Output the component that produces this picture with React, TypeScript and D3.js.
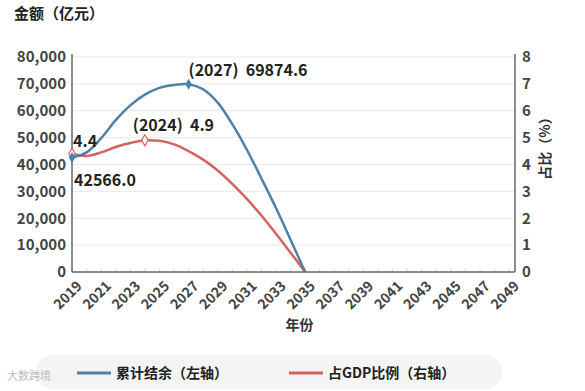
import React from "react";
import * as d3 from "d3";

// values
const years = d3.range(2019, 2036);
const balance = [
  42566, 44500, 49800, 56500, 62000, 66000, 68500, 69600, 69874.6,
  68000, 63000, 55000, 45500, 34800, 23800, 12000, 0,
];
const gdpShare = [
  4.4, 4.32, 4.45, 4.65, 4.8, 4.9, 4.88, 4.75, 4.5,
  4.18, 3.78, 3.28, 2.72, 2.1, 1.42, 0.72, 0,
];
const xTickYears = d3.range(2019, 2050, 2);
const leftTicks = d3.range(0, 80001, 10000);
const rightTicks = d3.range(0, 9);

const blueMarks = [
  { year: 2019, value: 42566.0, label: "42566.0", dx: 2, dy: 28 },
  { year: 2027, value: 69874.6, label: "(2027)  69874.6", dx: 0, dy: -8 },
];
const redMarks = [
  { year: 2019, value: 4.4, label: "4.4", dx: 1, dy: -7 },
  { year: 2024, value: 4.9, label: "(2024)  4.9", dx: -12, dy: -9 },
];

const font = "'Noto Sans CJK SC', 'Noto Sans', sans-serif";
const BLUE = "#4c82a6";
const RED = "#d5625d";

const App = () => {
  const width = 585;
  const height = 391;
  const m = { left: 72, right: 70, top: 57, bottom: 119 };
  const x = d3.scaleLinear().domain([2019, 2049.4]).range([m.left, width - m.right]);
  const yL = d3.scaleLinear().domain([0, 80000]).range([height - m.bottom, m.top]);
  const yR = d3.scaleLinear().domain([0, 8]).range([height - m.bottom, m.top]);
  const fmt = d3.format(",");

  const lineL = d3.line<number>()
    .x((_, i) => x(years[i]))
    .y((d) => yL(d))
    .curve(d3.curveCatmullRom);
  const lineR = d3.line<number>()
    .x((_, i) => x(years[i]))
    .y((d) => yR(d))
    .curve(d3.curveCatmullRom);
  const diamond = d3.symbol(d3.symbolDiamond, 36)();

  const bottom = height - m.bottom;
  const right = width - m.right;

  return (
    <svg width={width} height={height} style={{ position: "absolute", left: 0, top: 0, background: "#fff" }} fontFamily={font}>
      <text x={14} y={19} fontSize={15} fontWeight={700} fill="#222">金额（亿元）</text>

      {leftTicks.map((t) => (
        <g key={t}>
          {t > 0 && <line x1={m.left} x2={right} y1={yL(t)} y2={yL(t)} stroke="#e9e9e9" />}
          <text x={m.left - 6} y={yL(t)} dy="0.35em" textAnchor="end" fontSize={15} fontWeight={600} fill="#444">
            {fmt(t)}
          </text>
        </g>
      ))}
      {rightTicks.map((t) => (
        <text key={t} x={right + 7} y={yR(t)} dy="0.35em" fontSize={15} fontWeight={600} fill="#444">{t}</text>
      ))}
      <text transform={`translate(${550},${145}) rotate(-90)`} textAnchor="middle" fontSize={14} fontWeight={700} fill="#333">
        占比（%）
      </text>

      {d3.range(2019, 2050).map((yr) => (
        <line key={yr} x1={x(yr)} x2={x(yr)} y1={bottom} y2={bottom - 4} stroke="#ddd" />
      ))}
      <line x1={m.left} x2={m.left} y1={m.top - 3} y2={bottom} stroke="#666" strokeWidth={1.5} />
      <line x1={right} x2={right} y1={m.top - 3} y2={bottom} stroke="#666" strokeWidth={1.5} />
      <line x1={m.left} x2={right} y1={bottom} y2={bottom} stroke="#666" strokeWidth={1.5} />

      {xTickYears.map((yr) => (
        <text key={yr} transform={`translate(${x(yr) + 4},${bottom + 8}) rotate(-45)`} textAnchor="end" dy="0.7em" fontSize={14} fontWeight={600} fill="#444">
          {yr}
        </text>
      ))}
      <text x={(m.left + right) / 2 + 6} y={330} textAnchor="middle" fontSize={14} fontWeight={700} fill="#333">年份</text>

      <path d={lineR(gdpShare) ?? ""} fill="none" stroke={RED} strokeWidth={2.5} />
      <path d={lineL(balance) ?? ""} fill="none" stroke={BLUE} strokeWidth={2.5} />

      {redMarks.map((d) => (
        <g key={d.year}>
          <path d={diamond ?? ""} transform={`translate(${x(d.year)},${yR(d.value)})`} fill="#fff" stroke={RED} strokeWidth={1.2} />
          <text x={x(d.year) + d.dx} y={yR(d.value) + d.dy} fontSize={16} fontWeight={700} fill="#222" style={{ whiteSpace: "pre" }}>{d.label}</text>
        </g>
      ))}
      {blueMarks.map((d) => (
        <g key={d.year}>
          <path d={diamond ?? ""} transform={`translate(${x(d.year)},${yL(d.value)})`} fill={BLUE} />
          <text x={x(d.year) + d.dx} y={yL(d.value) + d.dy} fontSize={16} fontWeight={700} fill="#222" style={{ whiteSpace: "pre" }}>{d.label}</text>
        </g>
      ))}

      <rect x={36} y={355} width={466} height={34} rx={17} fill="#f4f4f4" />
      <line x1={77} x2={111} y1={373} y2={373} stroke={BLUE} strokeWidth={3} />
      <text x={116} y={373} dy="0.35em" fontSize={14} fontWeight={700} fill="#222">累计结余（左轴）</text>
      <line x1={289} x2={323} y1={373} y2={373} stroke={RED} strokeWidth={3} />
      <text x={328} y={373} dy="0.35em" fontSize={14} fontWeight={700} fill="#222">占GDP比例（右轴）</text>
      <text x={7} y={380} fontSize={11} fill="#bbb">大数跨境</text>
    </svg>
  );
};

export default App;
